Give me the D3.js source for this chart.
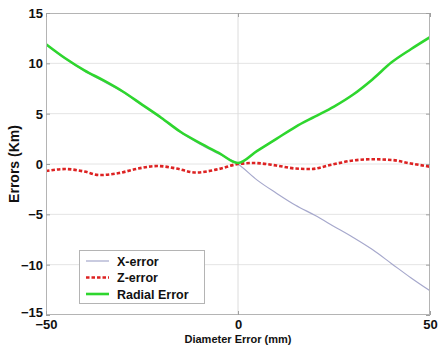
<!DOCTYPE html>
<html>
<head>
<meta charset="utf-8">
<script src="https://cdn.jsdelivr.net/npm/d3@7"></script>
<style>
  html, body { margin: 0; padding: 0; background: #fff; }
  svg { display: block; }
  text { font-family: "Liberation Sans", Arial, Helvetica, sans-serif; font-weight: bold; fill: #111; }
</style>
</head>
<body>
<svg id="chart" width="438" height="347"></svg>
<script>
// Diameter error (mm) vs. resulting position errors (km)
const xTicks = [-50, 0, 50];
const yTicks = [-15, -10, -5, 0, 5, 10, 15];

const diam = [-50, -45, -40, -35, -30, -25, -20, -15, -10, -5, 0, 5, 10, 15, 20, 25, 30, 35, 40, 45, 50];

// X-error: positive branch lies under the radial curve, negative branch for d > 0
const xErrV = [11.85, 10.45, 9.25, 8.2, 7.15, 5.85, 4.55, 3.15, 2.0, 1.0, 0, -1.6, -2.9, -4.1, -5.1, -6.2, -7.3, -8.5, -9.9, -11.3, -12.6];

// Z-error: small oscillation about zero
const zErrD = [-50, -45, -40, -36, -31, -26, -21, -16, -11, -5, 0, 4, 10, 15, 19, 24, 30, 35, 40, 45, 50];
const zErrV = [-0.7, -0.5, -0.75, -1.1, -0.9, -0.45, -0.2, -0.45, -0.85, -0.5, 0.0, 0.1, -0.15, -0.45, -0.5, -0.1, 0.35, 0.47, 0.4, 0.05, -0.27];

// Radial error
const radV = [11.9, 10.5, 9.3, 8.3, 7.2, 5.9, 4.6, 3.2, 2.1, 1.1, 0.1, 1.3, 2.5, 3.7, 4.7, 5.7, 6.9, 8.4, 10.1, 11.4, 12.6];

const series = [
  { name: "X-error", d: diam, v: xErrV, color: "#a6a8cc", width: 1.2, dash: null },
  { name: "Z-error", d: zErrD, v: zErrV, color: "#dd2222", width: 2.6, dash: "3.5,2" },
  { name: "Radial Error", d: diam, v: radV, color: "#2ed62e", width: 2.6, dash: null }
];

const svg = d3.select("#chart");
const plot = { left: 46, right: 430, top: 13, bottom: 315 };

const x = d3.scaleLinear().domain([-50, 50]).range([plot.left, plot.right]);
const y = d3.scaleLinear().domain([-15, 15]).range([plot.bottom, plot.top]);

// grid
const grid = svg.append("g");
grid.selectAll("line.h").data(yTicks.filter(t => t > -15 && t < 15)).join("line")
  .attr("x1", plot.left).attr("x2", plot.right)
  .attr("y1", d => y(d)).attr("y2", d => y(d))
  .attr("stroke", "#e4e4e4").attr("stroke-width", 1);
grid.selectAll("line.v").data(xTicks.filter(t => t > -50 && t < 50)).join("line")
  .attr("y1", plot.top).attr("y2", plot.bottom)
  .attr("x1", d => x(d)).attr("x2", d => x(d))
  .attr("stroke", "#dcdcdc").attr("stroke-width", 1);

// series lines
const line = d3.line().curve(d3.curveMonotoneX);
svg.append("clipPath").attr("id", "clip").append("rect")
  .attr("x", plot.left).attr("y", plot.top)
  .attr("width", plot.right - plot.left).attr("height", plot.bottom - plot.top);
const lines = svg.append("g").attr("clip-path", "url(#clip)");
series.forEach(s => {
  lines.append("path")
    .attr("d", line(s.d.map((d, i) => [x(d), y(s.v[i])])))
    .attr("fill", "none")
    .attr("stroke", s.color)
    .attr("stroke-width", s.width)
    .attr("stroke-dasharray", s.dash);
});

// frame
svg.append("rect")
  .attr("x", plot.left + 0.5).attr("y", plot.top + 0.5)
  .attr("width", plot.right - plot.left - 1).attr("height", plot.bottom - plot.top - 1)
  .attr("fill", "none").attr("stroke", "#b4b4b4").attr("stroke-width", 1);

// axes (inward ticks on all sides)
const axL = d3.axisLeft(y).tickValues(yTicks).tickSize(-4).tickPadding(7).tickFormat(d3.format("d"));
const axR = d3.axisRight(y).tickValues(yTicks).tickSize(-4).tickFormat("");
const axB = d3.axisBottom(x).tickValues(xTicks).tickSize(-4).tickPadding(7).tickFormat(d3.format("d"));
const axT = d3.axisTop(x).tickValues(xTicks).tickSize(-4).tickFormat("");

function style(g) {
  g.select(".domain").remove();
  g.selectAll(".tick line").attr("stroke", "#a0a0a0");
  g.selectAll(".tick text").attr("font-size", 13).attr("font-weight", "bold")
    .attr("font-family", "Liberation Sans, Arial, sans-serif").attr("fill", "#111");
}
const gl = svg.append("g").attr("transform", `translate(${plot.left},0)`).call(axL).call(style);
gl.selectAll(".tick text").attr("x", -3).attr("dy", "0.35em");
gl.selectAll(".tick").filter(d => d === -15).select("text").attr("dy", "0.15em");
svg.append("g").attr("transform", `translate(${plot.right},0)`).call(axR).call(style);
svg.append("g").attr("transform", `translate(0,${plot.bottom})`).call(axB).call(style)
  .selectAll(".tick text").attr("y", 5);
svg.append("g").attr("transform", `translate(0,${plot.top})`).call(axT).call(style);

// axis titles
svg.append("text")
  .attr("x", x(0)).attr("y", 343)
  .attr("text-anchor", "middle").attr("font-size", 11)
  .text("Diameter Error (mm)");
svg.append("text")
  .attr("transform", `translate(19,${y(0)}) rotate(-90)`)
  .attr("text-anchor", "middle").attr("font-size", 14)
  .text("Errors (Km)");

// legend
const lg = svg.append("g").attr("transform", "translate(79,250)");
lg.append("rect").attr("x", 0.5).attr("y", 0.5).attr("width", 125).attr("height", 53)
  .attr("fill", "#fff").attr("stroke", "#b4b4b4").attr("stroke-width", 1);
series.forEach((s, i) => {
  const yy = 11 + i * 16.5;
  lg.append("line").attr("x1", 7).attr("x2", 30).attr("y1", yy).attr("y2", yy)
    .attr("stroke", s.color).attr("stroke-width", s.width).attr("stroke-dasharray", s.dash);
  lg.append("text").attr("x", 38).attr("y", yy).attr("dy", "0.36em")
    .attr("font-size", 12.5).text(s.name);
});
</script>
</body>
</html>
